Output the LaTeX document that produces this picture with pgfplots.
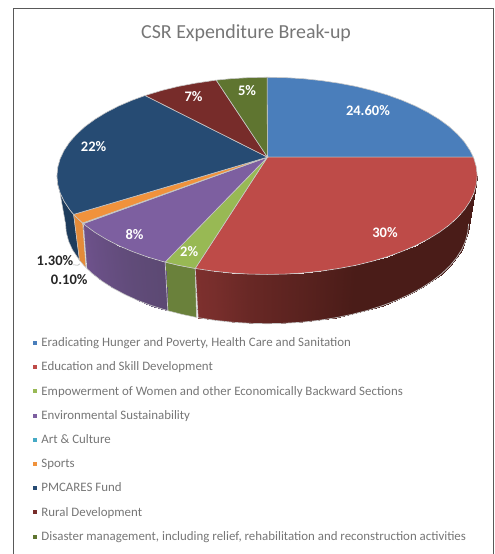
\documentclass[border=0pt]{standalone}
\usepackage{fontspec}
\setmainfont{Carlito}
\usepackage{pgfplots}
\pgfplotsset{compat=1.18}

\definecolor{cblue}{RGB}{74,126,187}
\definecolor{cred}{RGB}{190,75,72}
\definecolor{cgreen}{RGB}{152,185,84}
\definecolor{cpurple}{RGB}{125,95,160}
\definecolor{cteal}{RGB}{70,170,197}
\definecolor{corange}{RGB}{240,146,60}
\definecolor{cnavy}{RGB}{38,75,115}
\definecolor{cmaroon}{RGB}{119,44,42}
\definecolor{cdkgreen}{RGB}{95,117,48}
\definecolor{rim}{RGB}{200,200,200}
\definecolor{txt}{RGB}{118,118,118}

\tikzset{lab/.style={font=\fontsize{14.6}{16}\selectfont\bfseries,text=white,inner sep=0pt}}
\tikzset{labo/.style={font=\fontsize{14.6}{16}\selectfont\bfseries,text=black!85,inner sep=0pt}}

\begin{document}
\begin{tikzpicture}
\begin{axis}[
  width=495bp,height=554bp,scale only axis,
  xmin=0,xmax=495,ymin=0,ymax=554,y dir=reverse,
  hide axis,clip=false,
  colormap={sidecm}{rgb255(0)=(74,28,24) rgb255(10)=(125,48,46) rgb255(11)=(92,73,115) rgb255(20)=(110,82,140)},
  point meta min=0,point meta max=20,
  legend cell align=left,
  legend style={at={(axis cs:29.8,333.6)},anchor=north west,draw=none,fill=none,
    font=\fontsize{12.95}{14}\selectfont,text=txt,row sep=9.9bp,
    /tikz/every odd column/.append style={column sep=2.5bp}},
  legend image code/.code={\path[#1,draw=none] (0bp,-2bp) -- (4bp,-2bp) -- (4bp,2bp) -- (0bp,2bp) -- cycle;},
]
% page corners and frame
\addplot[draw=none,forget plot] coordinates {(0,0)(495,554)};
\addplot[forget plot,black!65,line width=1pt] coordinates {(14,554)(14,9)(493.5,9)(493.5,554)};

% sides of the pie
\addplot[forget plot,fill=cnavy!80!black,draw=rim,line width=0.5pt] coordinates {
  (73.7,214.6)(69.7,209.8)(64.2,201.5)(60.2,193.1)(57.8,184.6)(57,176)
  (65.6,224)(66.4,232.7)(68.7,241.4)(72.5,249.9)(79.6,260.6)} --cycle;
\addplot[forget plot,fill=corange!95!black,draw=rim,line width=0.5pt] coordinates {
  (82.7,223.2)(76.7,217.7)(73.7,214.6)(79.6,260.6)(84.5,266.3)(86,267.8)} --cycle;
\addplot[forget plot,fill=cgreen!70!black,draw=rim,line width=0.5pt] coordinates {
  (195.4,268.7)(178.4,265.5)(165.3,262.3)(168,311)(182.1,314.6)(196.7,317.7)} --cycle;

\addplot[forget plot,patch,patch type=rectangle,mesh input=lattice,mesh/cols=8,shader=interp,point meta=explicit] coordinates {
  (165.3,262.3)[11] (146.7,256.9)[12] (132.1,251.6)[13] (118.6,245.8)[14.5] (106.2,239.4)[16] (95,232.6)[17.5] (85.2,225.4)[19] (83.4,223.8)[20]
  (168,311)[11] (151.6,305.9)[12] (137.6,300.6)[13] (124.7,294.7)[14.5] (112.8,288.3)[16] (102.1,281.4)[17.5] (92.6,274)[19] (86.8,268.6)[20]
};
\addplot[forget plot,patch,patch type=rectangle,mesh input=lattice,mesh/cols=23,shader=interp,point meta=explicit] coordinates {
  (477.6,176)[0] (476.8,184.6)[0] (474.4,193.1)[0] (470.4,201.5)[0] (464.9,209.8)[0] (457.9,217.7)[0] (449.4,225.4)[0] (439.6,232.6)[0]
  (428.4,239.4)[0] (416,245.8)[0] (402.5,251.6)[0] (387.9,256.9)[0] (372.5,261.5)[0] (356.2,265.5)[0] (339.2,268.7)[1] (321.7,271.3)[2]
  (303.8,273.2)[3] (285.6,274.3)[4] (267.3,274.7)[5] (249,274.3)[6] (230.8,273.2)[7.5] (212.9,271.3)[9] (195.4,268.7)[10]
  (469,224)[0] (468.2,232.7)[0] (465.9,241.4)[0] (462.1,249.9)[0] (456.8,258.2)[0] (450.1,266.3)[0] (442,274)[0] (432.5,281.4)[0]
  (421.8,288.3)[0] (409.9,294.7)[0] (397,300.6)[0] (383,305.9)[0] (368.2,310.6)[0] (352.5,314.6)[0] (336.3,318)[1] (319.5,320.6)[2]
  (302.3,322.5)[3] (284.9,323.6)[4] (267.3,324)[5] (249.7,323.6)[6] (232.3,322.5)[7.5] (215.1,320.6)[9] (198.3,318)[10]
};
% rim along the foot of the gradient sides
\addplot[forget plot,rim,line width=0.7pt] coordinates {
  (83.4,223.8)(86.8,268.6)(92.6,274)(102.1,281.4)(112.8,288.3)(124.7,294.7)(137.6,300.6)(151.6,305.9)(168,311)(165.3,262.3)};
\addplot[forget plot,rim,line width=0.7pt] coordinates {
  (195.4,268.7)(198.3,318)(215.1,320.6)(232.3,322.5)(249.7,323.6)(267.3,324)(284.9,323.6)(302.3,322.5)(319.5,320.6)(336.3,318)
  (352.5,314.6)(368.2,310.6)(383,305.9)(397,300.6)(409.9,294.7)(421.8,288.3)(432.5,281.4)(442,274)(450.1,266.3)(456.8,258.2)
  (462.1,249.9)(465.9,241.4)(468.2,232.7)(469,224)};

% top face, one polygon per slice
\addplot[fill=cblue,draw=rim,line width=0.6pt] coordinates {
  (267.7,157.3)(267.3,77.3)(285.6,77.7)(303.8,78.8)(321.7,80.7)(339.2,83.3)(356.2,86.5)(372.5,90.5)(387.9,95.1)(402.5,100.4)
  (416,106.2)(428.4,112.6)(439.6,119.4)(449.4,126.6)(457.9,134.3)(464.9,142.2)(470.4,150.5)(473.7,157.2)} --cycle;
\addlegendentry{Eradicating Hunger and Poverty, Health Care and Sanitation}
\addplot[fill=cred,draw=rim,line width=0.6pt] coordinates {
  (267.7,157.3)(473.7,157.2)(474.4,158.9)(476.8,167.4)(477.6,176)(476.8,184.6)(474.4,193.1)(470.4,201.5)(464.9,209.8)(457.9,217.7)
  (449.4,225.4)(439.6,232.6)(428.4,239.4)(416,245.8)(402.5,251.6)(387.9,256.9)(372.5,261.5)(356.2,265.5)(339.2,268.7)(321.7,271.3)
  (303.8,273.2)(285.6,274.3)(267.3,274.7)(249,274.3)(230.8,273.2)(212.9,271.3)(195.4,268.7)} --cycle;
\addlegendentry{Education and Skill Development}
\addplot[fill=cgreen,draw=rim,line width=0.6pt] coordinates {
  (267.7,157.3)(195.4,268.7)(178.4,265.5)(165.3,262.3)} --cycle;
\addlegendentry{Empowerment of Women and other Economically Backward Sections}
\addplot[fill=cpurple,draw=rim,line width=0.6pt] coordinates {
  (267.7,157.3)(165.3,262.3)(162.1,261.5)(146.7,256.9)(132.1,251.6)(118.6,245.8)(106.2,239.4)(95,232.6)(85.2,225.4)(83.4,223.8)} --cycle;
\addlegendentry{Environmental Sustainability}
\addplot[fill=cteal,draw=rim,line width=0.6pt] coordinates {
  (267.7,157.3)(83.4,223.8)(82.7,223.2)} --cycle;
\addlegendentry{Art \& Culture}
\addplot[fill=corange,draw=rim,line width=0.6pt] coordinates {
  (267.7,157.3)(82.7,223.2)(76.7,217.7)(73.7,214.6)} --cycle;
\addlegendentry{Sports}
\addplot[fill=cnavy,draw=rim,line width=0.6pt] coordinates {
  (267.7,157.3)(73.7,214.6)(69.7,209.8)(64.2,201.5)(60.2,193.1)(57.8,184.6)(57,176)(57.8,167.4)(60.2,158.9)(64.2,150.5)
  (69.7,142.2)(76.7,134.3)(85.2,126.6)(95,119.4)(106.2,112.6)(118.6,106.2)(132.1,100.4)(145.2,95.6)} --cycle;
\addlegendentry{PMCARES Fund}
\addplot[fill=cmaroon,draw=rim,line width=0.6pt] coordinates {
  (267.7,157.3)(145.2,95.6)(162.1,90.5)(178.4,86.5)(195.4,83.3)(212.9,80.7)(216.4,80.2)} --cycle;
\addlegendentry{Rural Development}
\addplot[fill=cdkgreen,draw=rim,line width=0.6pt] coordinates {
  (267.7,157.3)(216.4,80.2)(230.8,78.8)(249,77.7)(267.3,77.3)} --cycle;
\addlegendentry{Disaster management, including relief, rehabilitation and reconstruction activities}

% leader of the 1.30% label
\addplot[forget plot,black!35,line width=0.5pt] coordinates {(73,265)(78,265.5)(80,264)};

\node[font=\fontsize{20}{22}\selectfont,text=txt,inner sep=0pt] at (axis cs:246.3,33) {CSR Expenditure Break-up};
\node[lab] at (axis cs:368.3,110.7) {24.60\%};
\node[lab] at (axis cs:385.3,232.3) {30\%};
\node[lab] at (axis cs:189.3,251.7) {2\%};
\node[lab] at (axis cs:134.7,234.3) {8\%};
\node[lab] at (axis cs:93.7,146.7) {22\%};
\node[lab] at (axis cs:193.7,96.7) {7\%};
\node[lab] at (axis cs:247.3,90.7) {5\%};
\node[labo] at (axis cs:55,260.7) {1.30\%};
\node[labo] at (axis cs:69.3,279.3) {0.10\%};
\end{axis}
\end{tikzpicture}
\end{document}
